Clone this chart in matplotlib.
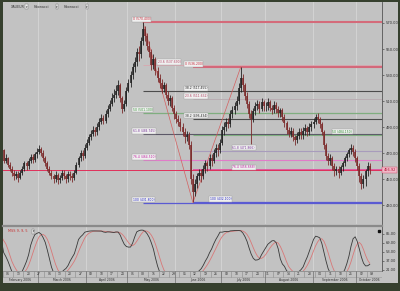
import numpy as np
import pandas as pd
import matplotlib
matplotlib.use("Agg")
import matplotlib.pyplot as plt
import matplotlib.transforms as mtransforms

# daily XAU/EUR bars, 1 Feb - 10 Oct 2006
dates = pd.bdate_range("2006-02-01", "2006-10-10")

close = [
    471, 475, 472, 464, 466, 461, 458, 455, 452, 454, 451, 455, 458, 462, 460, 464, 467, 465, 469, 471,
    473, 470, 466, 462, 458, 455, 452, 450, 453, 449, 451, 455, 452, 450, 454, 452, 451, 455, 461, 466, 470, 468, 474,
    478, 482, 485, 488, 486, 490, 494, 497, 495, 500, 504, 508, 512, 515, 518, 522, 512, 504, 508, 518,
    524, 530, 536, 540, 548, 546, 556, 565, 560, 552, 548, 538, 542, 533, 528, 524, 519, 522, 515, 510, 512, 505, 500,
    496, 494, 490, 486, 482, 484, 476, 450, 440, 446, 452, 455, 452, 458, 462, 460, 466, 464, 470, 474, 472, 478,
    488, 490, 494, 492, 500, 503, 506, 510, 520, 528, 522, 514, 508, 500, 496, 502, 506, 508, 504, 509, 506,
    506, 509, 505, 503, 507, 504, 501, 503, 498, 493, 488, 485, 487, 482, 480, 483, 486, 484, 487, 489, 486, 490, 492,
    494, 498, 496, 492, 486, 476, 468, 464, 466, 460, 456, 458, 455, 459, 462, 466, 469, 472, 474, 471, 466,
    460, 452, 446, 450, 456, 460, 457,
]
high = [
    472, 477, 478, 473, 469, 467, 463, 460, 457, 456, 456, 457, 460, 464, 464, 466, 469, 469, 471, 474,
    476, 475, 472, 468, 464, 460, 457, 454, 456, 455, 453, 457, 457, 454, 456, 456, 455, 457, 463, 468, 472, 472, 477,
    481, 485, 488, 491, 490, 493, 497, 500, 499, 503, 507, 511, 516, 519, 522, 526, 524, 514, 511, 521,
    527, 533, 539, 544, 551, 552, 559, 571, 568, 562, 556, 550, 546, 544, 536, 531, 527, 525, 524, 518, 515, 514, 507,
    502, 499, 497, 493, 489, 487, 486, 479, 454, 450, 455, 458, 458, 461, 465, 464, 469, 469, 473, 477, 477, 481,
    491, 494, 497, 497, 503, 506, 509, 514, 524, 536, 531, 524, 517, 510, 503, 505, 509, 511, 510, 512, 511,
    509, 512, 511, 507, 510, 509, 506, 505, 505, 500, 495, 490, 490, 489, 484, 486, 489, 489, 490, 492, 491, 493, 495,
    497, 500, 501, 498, 494, 488, 478, 470, 469, 468, 462, 460, 460, 461, 464, 468, 471, 474, 477, 476, 473,
    468, 462, 455, 453, 458, 463, 462,
]
low = [
    465, 469, 469, 462, 462, 459, 456, 452, 449, 450, 448, 450, 453, 456, 457, 458, 462, 462, 463, 466,
    469, 468, 464, 460, 456, 453, 450, 447, 448, 446, 447, 449, 450, 447, 448, 449, 448, 449, 454, 459, 464, 465, 466,
    472, 476, 480, 483, 483, 484, 488, 492, 492, 493, 498, 502, 506, 509, 512, 515, 509, 501, 502, 506,
    517, 521, 527, 532, 537, 541, 543, 553, 556, 549, 544, 534, 535, 530, 525, 520, 516, 517, 512, 507, 506, 502, 496,
    493, 491, 487, 483, 478, 479, 473, 446, 432, 437, 443, 449, 448, 450, 455, 456, 458, 460, 462, 467, 468, 470,
    476, 484, 487, 489, 490, 497, 500, 503, 508, 517, 518, 511, 505, 497, 477, 494, 499, 503, 501, 502, 502,
    502, 503, 502, 500, 501, 501, 498, 498, 495, 490, 485, 482, 482, 479, 476, 478, 481, 481, 481, 484, 483, 484, 487,
    489, 492, 493, 489, 484, 473, 465, 461, 461, 457, 452, 453, 451, 453, 456, 460, 464, 467, 469, 468, 463,
    457, 448, 442, 443, 445, 452, 454,
]
first_open = 468
last_price = 456.92

# fibonacci anchors: (bar index, price) for the high and the low of each swing
fib_a_high = (70, 570.4)
fib_a_low = (94, 431.8)
fib_b_low = (94, 432.1)
fib_b_high = (117, 536.2)
fib_ratios = [0, 23.6, 38.2, 50, 61.8, 76.4, 100]

price_ticks = [430, 450, 470, 490, 510, 530, 550, 570]
stoch_ticks = [21, 37, 53, 69, 85]
stoch_params = (9, 6, 5)

# where the level labels sit (bar index) and colours
fib_a_label_at = [65, 77, 90, 65, 65, 65, 65]
fib_b_label_at = [90, 90, 90, 161, 113, 113, 102]
line_col_a = ["#d46b7a", "#d9a6ae", "#4c4c4c", "#7fae7f", "#5c5868", "#e07cc8", "#5a5ad2"]
line_col_b = ["#d4687a", "#b9adb2", "#4c4c4c", "#7fae7f", "#a89cbc", "#e0509e", "#5a5ad2"]
line_w_a = [1.5, 0.6, 0.8, 0.9, 0.8, 0.8, 0.9]
line_w_b = [1.5, 0.7, 0.8, 0.8, 0.8, 1.3, 0.9]
text_col = ["#c42030", "#b04060", "#202020", "#2a8a2a", "#7a3a9a", "#c020a0", "#2020c0"]

BG = "#c2c2c2"
FRAME = "#36402e"
W, H = 400, 291


def box(x0, y0, x1, y1):
    return [x0 / W, 1 - y1 / H, (x1 - x0) / W, (y1 - y0) / H]


def clean(a):
    a.set_xticks([])
    a.set_yticks([])
    for s in a.spines.values():
        s.set_visible(False)


fig = plt.figure(figsize=(4.0, 2.91), dpi=100, facecolor=FRAME)
bg = fig.add_axes(box(3, 2, 398, 283), facecolor=BG)
clean(bg)

ax = fig.add_axes(box(3, 2, 382, 224), facecolor=BG)
sax = fig.add_axes(box(3, 226, 382, 271), facecolor=BG)
dax = fig.add_axes(box(3, 271, 382, 283), facecolor=BG)

n = len(close)
idx = np.arange(n)
xl = (2.69, 184.9)
c_arr = np.array(close, dtype=float)
h_arr = np.array(high, dtype=float)
l_arr = np.array(low, dtype=float)
o_arr = np.array([first_open] + close[:-1], dtype=float)
up = c_arr >= o_arr

month_starts = [i for i in range(1, n) if dates[i].month != dates[i - 1].month]

# ---- price panel ----
for m in month_starts:
    ax.axvline(m - 0.5, color="#d6d6d6", lw=0.6, zorder=0)
    sax.axvline(m - 0.5, color="#d6d6d6", lw=0.6, zorder=0)

for anchors, lab_at, lcols, lws, start in [
    ((fib_a_high, fib_a_low), fib_a_label_at, line_col_a, line_w_a, fib_a_high[0]),
    ((fib_b_high, fib_b_low), fib_b_label_at, line_col_b, line_w_b, fib_b_low[0]),
]:
    hi, lo = anchors[0][1], anchors[1][1]
    for k, r in enumerate(fib_ratios):
        lvl = hi - r / 100 * (hi - lo)
        ax.hlines(lvl, start, xl[1], color=lcols[k], lw=lws[k], zorder=1)
        ax.text(lab_at[k], lvl + 0.8, f"{r:g} ({lvl:.3f})", fontsize=2.2, color=text_col[k],
                ha="left", va="bottom", zorder=5,
                bbox=dict(boxstyle="square,pad=0.25", fc="#f0f0f0", ec="#a0a0a0", lw=0.3))

ax.axhline(last_price, color="#e0305a", lw=0.7, zorder=1)
ax.plot([fib_a_high[0], fib_a_low[0], fib_b_high[0]],
        [fib_a_high[1], fib_a_low[1], fib_b_high[1]], color="#d46060", lw=0.5, zorder=2)

ax.vlines(idx[up], l_arr[up], h_arr[up], color="#222222", lw=0.6, zorder=3)
ax.vlines(idx[~up], l_arr[~up], h_arr[~up], color="#7c2b2b", lw=0.6, zorder=3)
ax.vlines(idx[up], o_arr[up], c_arr[up], color="#222222", lw=1.15, zorder=3)
ax.vlines(idx[~up], c_arr[~up], o_arr[~up], color="#7c2b2b", lw=1.15, zorder=3)

ax.set_xlim(*xl)
ax.set_ylim(415.4, 586.15)
ax.set_xticks([])
ax.set_yticks(price_ticks)
ax.set_yticklabels([f"{t:.2f}" for t in price_ticks])
ax.yaxis.tick_right()
ax.tick_params(axis="y", labelsize=2.6, length=1.5, width=0.4, pad=1, colors="#303030")
for s in ["top", "left", "bottom"]:
    ax.spines[s].set_visible(False)
ax.spines["right"].set_color("#555555")
ax.spines["right"].set_linewidth(0.6)

trans = mtransforms.blended_transform_factory(ax.transAxes, ax.transData)
ax.text(1.004, last_price, f"{last_price:.2f}", transform=trans, fontsize=2.5, color="#b01030",
        ha="left", va="center", clip_on=False, zorder=6,
        bbox=dict(boxstyle="square,pad=0.3", fc="#f0b8c8", ec="#d04060", lw=0.3))

# header
x_hdr = 0.02
for word in ["XAUEUR", "Fibonacci", "Fibonacci"]:
    ax.text(x_hdr, 0.988, word, transform=ax.transAxes, fontsize=2.4, color="#383838",
            ha="left", va="top")
    x_hdr += 0.012 + 0.0062 * len(word)
    ax.text(x_hdr - 0.009, 0.988, "\u25be", transform=ax.transAxes, fontsize=2.2, color="#202020",
            ha="left", va="top",
            bbox=dict(boxstyle="square,pad=0.15", fc="#eeeeee", ec="#707070", lw=0.3))
    x_hdr += 0.012

# ---- stochastic panel ----
kp, sp, dp = stoch_params
hh = pd.Series(h_arr).rolling(kp, min_periods=1).max()
ll = pd.Series(l_arr).rolling(kp, min_periods=1).min()
cs = pd.Series(c_arr)
k_line = 100 * (cs - ll).rolling(sp, min_periods=1).sum() / (hh - ll).rolling(sp, min_periods=1).sum()
d_line = k_line.rolling(dp, min_periods=1).mean()

sax.plot(idx, d_line, color="#d87878", lw=0.6)
sax.plot(idx, k_line, color="#383838", lw=0.6)
sax.set_xlim(*xl)
sax.set_ylim(19.2, 99.2)
sax.set_xticks([])
sax.set_yticks(stoch_ticks)
sax.set_yticklabels([f"{t:.2f}" for t in stoch_ticks])
sax.yaxis.tick_right()
sax.tick_params(axis="y", labelsize=2.6, length=1.5, width=0.4, pad=1, colors="#303030")
for s in ["left", "bottom"]:
    sax.spines[s].set_visible(False)
sax.spines["top"].set_color("#8a8a8a")
sax.spines["top"].set_linewidth(1.6)
sax.spines["right"].set_color("#555555")
sax.spines["right"].set_linewidth(0.6)
sax.text(0.012, 0.93, "MSS 9, 9, 5", transform=sax.transAxes, fontsize=2.4, color="#c83030",
         ha="left", va="top")
sax.text(0.078, 0.93, "\u25be", transform=sax.transAxes, fontsize=2.0, color="#202020",
         ha="left", va="top",
         bbox=dict(boxstyle="square,pad=0.15", fc="#eeeeee", ec="#707070", lw=0.3))
sax.plot([0.993], [0.9], marker="s", ms=1.6, color="#111111", transform=sax.transAxes,
         clip_on=False)

# ---- date axis ----
dax.set_xlim(*xl)
dax.set_ylim(0, 2)
clean(dax)
dax.axhline(2, color="#8a8a8a", lw=0.6)
dax.axhline(1, color="#9a9a9a", lw=0.4)
mondays = [i for i in range(n) if dates[i].weekday() == 0]
for m in mondays:
    dax.vlines(m - 0.5, 1, 2, color="#8a8a8a", lw=0.4)
    if xl[0] < m + 2 < xl[1]:
        dax.text(m + 2, 1.5, f"{dates[m].day:02d}", fontsize=2.2, color="#303030",
                 ha="center", va="center")
bounds = [0] + month_starts + [n]
for j in range(len(bounds) - 1):
    a0 = max(bounds[j] - 0.5, xl[0])
    a1 = bounds[j + 1] - 0.5 if j < len(bounds) - 2 else xl[1]
    if j > 0:
        dax.vlines(bounds[j] - 0.5, 0, 2, color="#707070", lw=0.5)
    dax.text((a0 + a1) / 2, 0.5, dates[bounds[j]].strftime("%B %Y"), fontsize=2.2,
             color="#303030", ha="center", va="center")

fig.savefig("out.png", dpi=100, facecolor=FRAME)
